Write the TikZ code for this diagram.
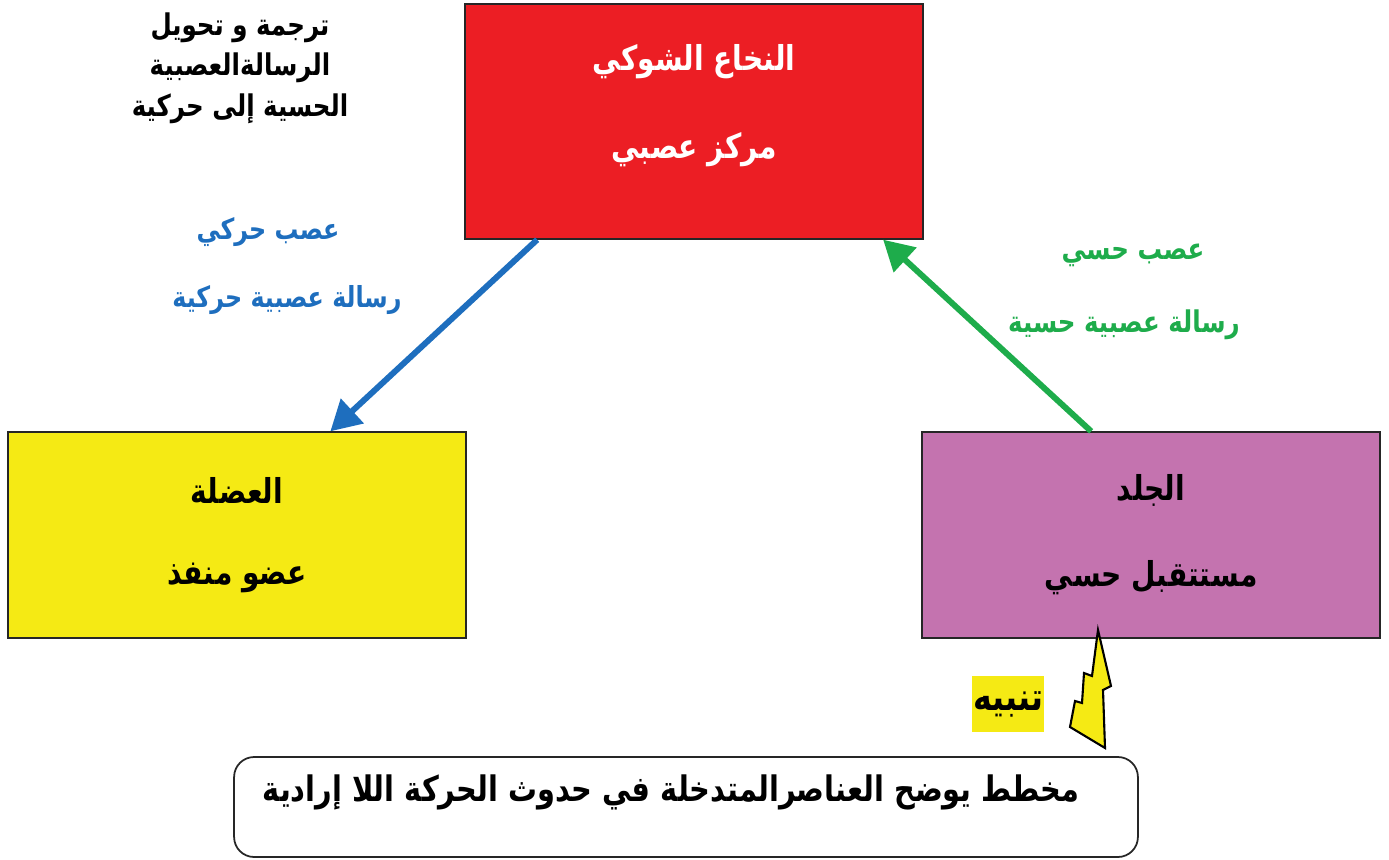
\documentclass[tikz,border=0pt]{standalone}
\usepackage{fontspec}
\usetikzlibrary{arrows.meta}
\newfontfamily\arabicfont[Script=Arabic, FakeStretch=0.82]{DejaVu Sans}
\TeXXeTstate=1
\definecolor{rouge}{RGB}{236,30,36}
\definecolor{jaune}{RGB}{245,234,20}
\definecolor{rose}{RGB}{196,115,175}
\definecolor{bleu}{RGB}{30,110,190}
\definecolor{vert}{RGB}{30,172,75}
\newcommand{\artxt}[1]{{\arabicfont\bfseries\beginR #1\endR}}
\tikzset{
  organe/.style={draw=black!85, line width=0.8pt, minimum width=9.16cm, minimum height=4.12cm},
  nerf/.style={line width=3.4pt, -{Triangle[length=0.6cm,width=0.65cm]}},
}

\begin{document}
\begin{tikzpicture}[x=0.02cm, y=-0.02cm, every node/.style={inner sep=0pt}]
\useasboundingbox (0,0) rectangle (1389,859);
%
\node[organe, fill=rouge, minimum height=4.7cm] (moelle) at (694,121.5) {};
\node[organe, fill=jaune] (muscle) at (237,535) {};
\node[organe, fill=rose] (peau) at (1151,535) {};
\node[draw=black!85, line width=1pt, rounded corners=0.4cm, minimum width=18.08cm, minimum height=2cm] (legende) at (686,807) {};
%
% Etiquettes :
\node[white, font=\fontsize{19.5}{23}\selectfont] (moelleA) at (694,62) {\artxt{النخاع الشوكي}};
\node[white, font=\fontsize{19.5}{23}\selectfont] (moelleB) at (694,150) {\artxt{مركز عصبي}};
\node[font=\fontsize{19.5}{23}\selectfont] (muscleA) at (237,490) {\artxt{العضلة}};
\node[font=\fontsize{19.5}{23}\selectfont] (muscleB) at (237,578) {\artxt{عضو منفذ}};
\node[font=\fontsize{19.5}{23}\selectfont] (peauA) at (1151,490) {\artxt{الجلد}};
\node[font=\fontsize{19.5}{23}\selectfont] (peauB) at (1151,578) {\artxt{مستتقبل حسي}};
%
\node[align=center, font=\fontsize{17}{23}\selectfont] (trad) at (240,68)
  {\artxt{ترجمة و تحويل}\\\artxt{الرسالةالعصبية}\\\artxt{الحسية إلى حركية}};
\node[bleu, font=\fontsize{16.5}{18}\selectfont] (bleuA) at (268,232) {\artxt{عصب حركي}};
\node[bleu, font=\fontsize{16.5}{18}\selectfont] (bleuB) at (287,300) {\artxt{رسالة عصبية حركية}};
\node[vert, font=\fontsize{17}{18}\selectfont] (vertA) at (1133,255) {\artxt{عصب حسي}};
\node[vert, font=\fontsize{17}{18}\selectfont] (vertB) at (1124,325) {\artxt{رسالة عصبية حسية}};
%
\node[fill=jaune, minimum width=1.44cm, minimum height=1.12cm, font=\fontsize{22}{26}\selectfont] (alerte) at (1008,704) {\artxt{تنبيه}};
\node[font=\fontsize{20}{24}\selectfont] (titre) at (671,792) {\artxt{مخطط  يوضح العناصرالمتدخلة في حدوث الحركة اللا إرادية}};
%
\draw[nerf, bleu] (moelle.217.6) -- (muscle.48);
\draw[nerf, vert] (peau.120.6) -- (moelle.328.7);
%
\draw[fill=jaune, line width=1.2pt, line join=miter]
  (1098,630) -- (1111,686) -- (1103,690) -- (1105,748) -- (1070,727) -- (1075,701)
  -- (1082,703) -- (1084,673) -- (1092,676) -- cycle;
\end{tikzpicture}
\end{document}
